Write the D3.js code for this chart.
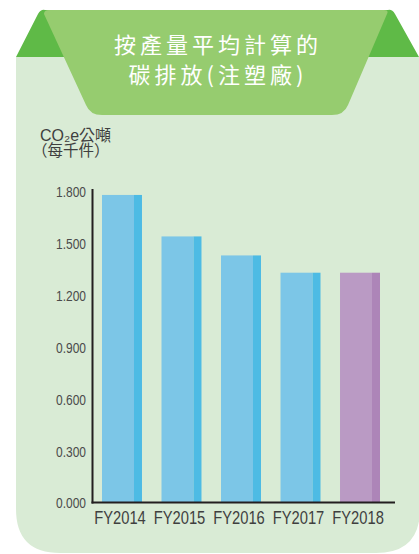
<!DOCTYPE html>
<html><head><meta charset="utf-8">
<script src="https://cdn.jsdelivr.net/npm/d3@7"></script>
<style>
html,body{margin:0;padding:0;background:#fff;}
svg{display:block;}
</style></head>
<body>
<div id="chart"></div>
<script>
const categories = ["FY2014","FY2015","FY2016","FY2017","FY2018"];
const values = [1.78, 1.54, 1.43, 1.33, 1.33];
const tickValues = [0, 0.3, 0.6, 0.9, 1.2, 1.5, 1.8];
const titleLines = ["按產量平均計算的", "碳排放(注塑廠)"];
const unitLines = ["CO₂e公噸", "（每千件）"];

const W = 419, H = 554;
const svg = d3.select("#chart").append("svg").attr("width", W).attr("height", H);

const colors = {
  panel: "#d9ebd5", bannerDark: "#5fba47", bannerLight: "#96cc6f",
  bar: "#7cc6e7", barEdge: "#4dbbe4", barLast: "#ba9ac4", barLastEdge: "#ad85b8",
  axis: "#231f20", text: "#3f3f3f"
};
const latin = "'Liberation Sans', Arial, sans-serif";
const cjk = "'Noto Sans CJK TC', sans-serif";
const narrow = 0.82;

// panel
const pp = d3.path();
const pl = 16, pr = 420, pt = 57, pb = 553, rr = 44;
pp.moveTo(pl, pt); pp.lineTo(pr, pt); pp.lineTo(pr, pb - rr);
pp.quadraticCurveTo(pr, pb, pr - rr, pb);
pp.lineTo(pl + rr, pb);
pp.quadraticCurveTo(pl, pb, pl, pb - rr);
pp.closePath();
svg.append("path").attr("d", pp.toString()).attr("fill", colors.panel);

// dark ears
const dp = d3.path();
dp.moveTo(16, 57); dp.lineTo(38, 14); dp.quadraticCurveTo(41, 9, 45, 10);
dp.lineTo(388, 10); dp.quadraticCurveTo(392, 9, 395, 14); dp.lineTo(419, 57); dp.closePath();
svg.append("path").attr("d", dp.toString()).attr("fill", colors.bannerDark);

// light banner
const lp = d3.path();
lp.moveTo(44, 14); lp.quadraticCurveTo(44, 10, 49, 10);
lp.lineTo(384, 10); lp.quadraticCurveTo(389, 10, 387, 14);
lp.lineTo(348, 105); lp.quadraticCurveTo(344, 115, 332, 115);
lp.lineTo(102, 115); lp.quadraticCurveTo(90, 115, 86, 105);
lp.closePath();
svg.append("path").attr("d", lp.toString()).attr("fill", colors.bannerLight);

// title
svg.append("g").selectAll("text").data(titleLines).join("text")
  .attr("x", 218).attr("y", (d, i) => 52.5 + i * 30)
  .attr("text-anchor", "middle")
  .attr("font-family", cjk)
  .attr("font-size", 22).attr("letter-spacing", "4px")
  .attr("fill", "#fff").text(d => d);

// unit label
svg.append("text").attr("x", 40).attr("y", 140.5)
  .attr("font-family", latin + ", " + cjk).attr("font-size", 16)
  .attr("fill", colors.text).text(unitLines[0]);
svg.append("text").attr("x", 32).attr("y", 156)
  .attr("font-family", cjk).attr("font-size", 15.5)
  .attr("fill", colors.text).text(unitLines[1]);

// scales
const x = d3.scaleBand().domain(categories).range([92, 390])
  .paddingInner(0.328).paddingOuter(0.168);
const y = d3.scaleLinear().domain([0, 1.8]).range([502.5, 191.5]);
const edgeFrac = 0.2;

const bars = svg.append("g").selectAll("g").data(categories).join("g");
bars.append("rect")
  .attr("x", d => x(d)).attr("width", x.bandwidth() * (1 - edgeFrac))
  .attr("y", (d, i) => y(values[i])).attr("height", (d, i) => y(0) - y(values[i]))
  .attr("fill", (d, i) => i === categories.length - 1 ? colors.barLast : colors.bar);
bars.append("rect")
  .attr("x", d => x(d) + x.bandwidth() * (1 - edgeFrac)).attr("width", x.bandwidth() * edgeFrac)
  .attr("y", (d, i) => y(values[i])).attr("height", (d, i) => y(0) - y(values[i]))
  .attr("fill", (d, i) => i === categories.length - 1 ? colors.barLastEdge : colors.barEdge);

// y axis
const yAxis = d3.axisLeft(y).tickValues(tickValues).tickFormat(d3.format(".3f")).tickSize(0).tickPadding(6);
const ya = svg.append("g").attr("transform", "translate(92,0)").call(yAxis);
ya.select(".domain").remove();
ya.selectAll("text").attr("font-family", latin)
  .attr("font-size", 15).attr("fill", "#4a4a4a").attr("dy", "0.36em")
  .attr("x", -6 / 0.8).attr("transform", "scale(0.8,1)");
svg.append("line").attr("x1", 92.5).attr("x2", 92.5).attr("y1", 189).attr("y2", 503.5)
  .attr("stroke", colors.axis).attr("stroke-width", 2);

// x axis
const xAxis = d3.axisBottom(x).tickSize(0).tickPadding(9);
const xa = svg.append("g").attr("transform", "translate(0,502.5)").call(xAxis);
xa.select(".domain").remove();
xa.selectAll("text").attr("font-family", latin)
  .attr("font-size", 18).attr("fill", colors.text)
  .attr("x", -2 / narrow).attr("transform", `scale(${narrow},1)`);
svg.append("line").attr("x1", 91.5).attr("x2", 395).attr("y1", 502.5).attr("y2", 502.5)
  .attr("stroke", colors.axis).attr("stroke-width", 2);
</script>
</body></html>
